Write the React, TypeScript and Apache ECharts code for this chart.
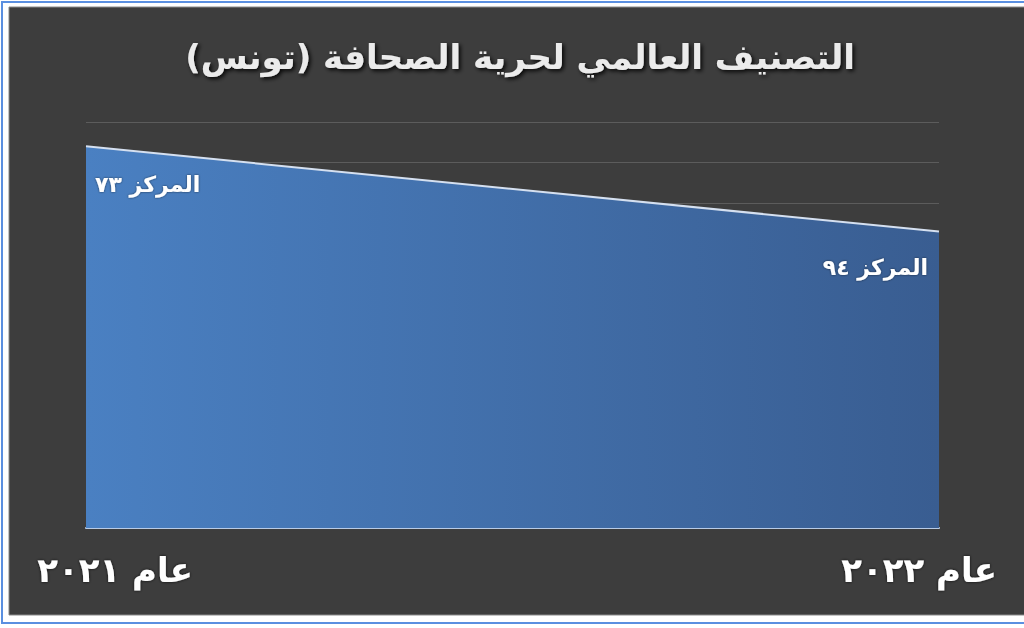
import React, { useEffect, useRef } from "react";
import * as echarts from "echarts";

const titleText = "التصنيف العالمي لحرية الصحافة (تونس)";
const categories = ["عام ٢٠٢١", "عام ٢٠٢٢"];
const values = [94, 73];
const pointLabels = ["المركز ٧٣", "المركز ٩٤"];
const yMin = 0;
const yMax = 100;
const yInterval = 10;

const FONT = "'DejaVu Sans', 'Noto Sans', sans-serif";

export default function App() {
  const ref = useRef<HTMLDivElement>(null);
  useEffect(() => {
    document.body.style.margin = "0";
    const chart = echarts.init(ref.current!, null, { renderer: "svg" });
    const axisRich = (pad: number[]) => ({
      padding: pad,
      fontFamily: FONT,
      fontWeight: "bold",
      fontSize: 34,
      color: "#ffffff",
      textShadowColor: "rgba(0,0,0,0.8)",
      textShadowBlur: 3,
    });
    chart.setOption({
      animation: false,
      backgroundColor: "#ffffff",
      graphic: [
        {
          type: "rect",
          shape: { x: 2, y: 2, width: 1100, height: 621 },
          style: { fill: "none", stroke: "#5a8fe0", lineWidth: 2 },
          silent: true,
          z: -10,
        },
        {
          type: "rect",
          shape: { x: 9, y: 7, width: 1100, height: 608 },
          style: { fill: "#3d3d3d", stroke: "#8a8a8a", lineWidth: 1 },
          silent: true,
          z: -9,
        },
      ],
      title: {
        text: titleText,
        left: 515,
        top: 35,
        textAlign: "center",
        textStyle: {
          color: "#ebebeb",
          fontSize: 34,
          fontWeight: "bold",
          fontFamily: FONT,
          textShadowColor: "rgba(0,0,0,0.9)",
          textShadowBlur: 4,
          textShadowOffsetX: 2,
          textShadowOffsetY: 2,
        },
      },
      grid: { left: 86, right: 85, top: 122, bottom: 100 },
      xAxis: {
        type: "category",
        data: categories,
        boundaryGap: false,
        axisLine: { show: true, lineStyle: { color: "#b8cbe6", width: 2 } },
        axisTick: { show: false },
        axisLabel: {
          margin: 25,
          fontFamily: FONT,
          fontWeight: "bold",
          fontSize: 34,
          color: "#ffffff",
          formatter: (v: string, i: number) => (i === 0 ? `{a|${v}}` : `{b|${v}}`),
          rich: {
            a: axisRich([0, 0, 0, 58]),
            b: axisRich([0, 40, 0, 0]),
          },
        },
      },
      yAxis: {
        type: "value",
        min: yMin,
        max: yMax,
        interval: yInterval,
        axisLine: { show: false },
        axisTick: { show: false },
        axisLabel: { show: false },
        splitLine: { show: true, lineStyle: { color: "#5c5c5c", width: 1 } },
      },
      series: [
        {
          type: "line",
          data: values.map((v, i) => ({
            value: v,
            label: {
              show: true,
              formatter: pointLabels[i],
              position: "inside",
              align: i === 0 ? "left" : "right",
              verticalAlign: "middle",
              offset: i === 0 ? [9, 38] : [-11, 36],
            },
          })),
          symbol: "circle",
          symbolSize: 2,
          showSymbol: true,
          itemStyle: { color: "rgba(0,0,0,0)", borderWidth: 0 },
          lineStyle: { color: "#d5e0f0", width: 2 },
          label: {
            show: true,
            color: "#ffffff",
            fontFamily: FONT,
            fontWeight: "bold",
            fontSize: 22,
            textShadowColor: "rgba(0,0,0,0.6)",
            textShadowBlur: 2,
          },
          areaStyle: {
            opacity: 1,
            color: new echarts.graphic.LinearGradient(0, 0, 1, 0, [
              { offset: 0, color: "#4a80c2" },
              { offset: 1, color: "#395d91" },
            ]),
          },
        },
      ],
    });
    return () => chart.dispose();
  }, []);
  return <div ref={ref} style={{ width: 1024, height: 628 }} />;
}
